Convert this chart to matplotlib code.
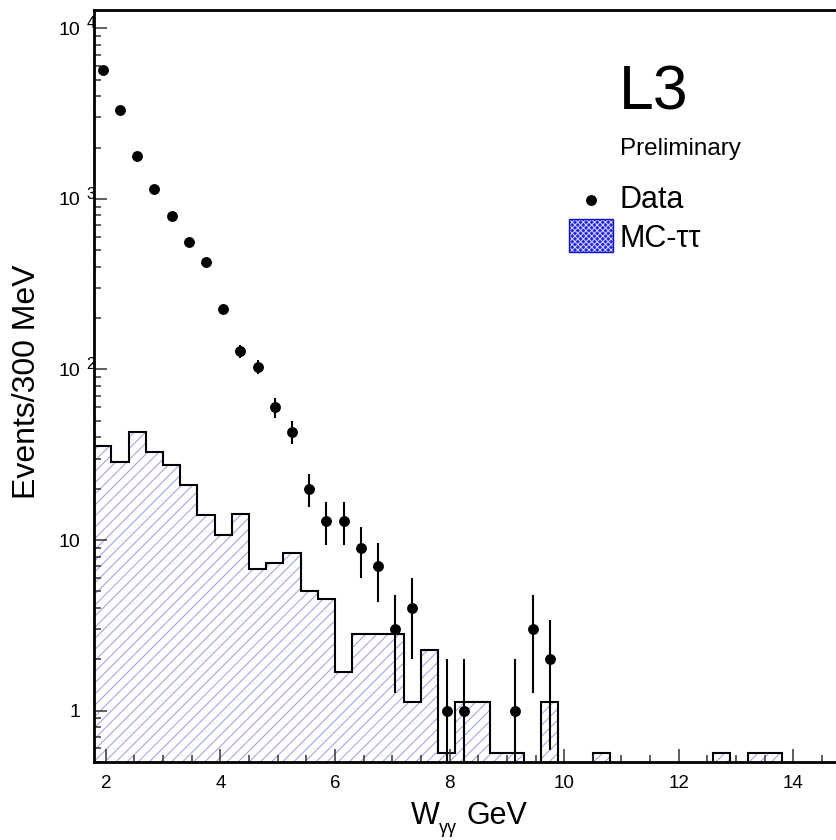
import numpy as np
import matplotlib
matplotlib.use("Agg")
import matplotlib.pyplot as plt
import matplotlib.transforms as mtransforms
from matplotlib.patches import Rectangle
from matplotlib.lines import Line2D
from matplotlib.ticker import MultipleLocator, LogLocator, NullFormatter

plt.rcParams['font.family'] = ['Liberation Sans', 'DejaVu Sans']
plt.rcParams['hatch.linewidth'] = 0.7

# ===== data =====
bin_lo, bin_width, n_bins = 1.8, 0.3, 43

# MC tau-tau (weighted events per bin)
mc_values = [35.6, 28.7, 42.9, 32.8, 27.7, 20.9, 14.1, 10.7, 14.2, 6.74,
             7.34, 8.44, 5.05, 4.50, 1.69, 2.83, 2.83, 2.83, 1.13, 2.26,
             0.565, 1.13, 1.13, 0.565, 0.565, 0, 1.13, 0, 0, 0.565,
             0, 0, 0, 0, 0, 0, 0.565, 0, 0.565, 0.565,
             0, 0, 0]

# data counts (first 27 bins)
data_counts = [5675, 3320, 1778, 1138, 798, 559, 425, 226, 128, 104,
               60, 43, 20, 13, 13, 9, 7, 3, 4, 0,
               1, 1, 0, 0, 1, 3, 2]

x_ticks = [2, 4, 6, 8, 10, 12, 14]
y_ticks = [1, 10, 100, 1000, 10000]

# ===== figure =====
W, H = 836, 840
fig = plt.figure(figsize=(W / 100, H / 100), dpi=100)
ax = fig.add_axes([94.3 / W, 1 - 762 / H, (W - 94.3) / W, (762 - 10) / H])
ax.set_yscale('log', nonpositive='clip')

edges = bin_lo + bin_width * np.arange(n_bins + 1)
mc = np.clip(np.array(mc_values), 1e-3, None)

# hatched MC histogram
ax.stairs(mc, edges, baseline=1e-3, fill=True, facecolor='none',
          edgecolor='#9a9af0', hatch='///', linewidth=0)
ax.stairs(mc, edges, baseline=1e-3, color='black', linewidth=1.5)

# data points with poisson errors
counts = np.array(data_counts, dtype=float)
centers = edges[:len(counts)] + bin_width / 2
keep = counts > 0
err = np.sqrt(counts[keep])
err_lo = np.minimum(err, counts[keep] - 1e-3)
ax.errorbar(centers[keep], counts[keep], yerr=[err_lo, err], fmt='o',
            color='black', ms=6.8, elinewidth=1.5, capsize=0, zorder=5)

ax.set_xlim(bin_lo, bin_lo + (W - 94.3) / 57.3)
ax.set_ylim(0.5, 1.28e4)

# ticks
ax.set_xticks(x_ticks)
ax.xaxis.set_minor_locator(MultipleLocator(0.5))
ax.yaxis.set_major_locator(LogLocator(base=10, numticks=10))
ax.yaxis.set_minor_locator(LogLocator(base=10, subs=np.arange(2, 10), numticks=20))
ax.yaxis.set_major_formatter(NullFormatter())
ax.yaxis.set_minor_formatter(NullFormatter())
ax.tick_params(which='both', direction='in', top=False, right=False,
               color='#333333', width=1.1)
ax.tick_params(which='major', length=9.5)
ax.tick_params(which='minor', length=5)
ax.tick_params(axis='x', labelsize=13.5, pad=9)

for s in ['left', 'bottom', 'top']:
    ax.spines[s].set_linewidth(2)
ax.spines['right'].set_visible(False)

# ROOT style y labels: 1, 10, 10^2 ...
ytr = ax.get_yaxis_transform()
sup_tr = mtransforms.offset_copy(ytr, fig=fig, x=0, y=4.5, units='points')
for v in y_ticks:
    if v < 100:
        ax.text(-0.0193, v, str(v), transform=ytr, ha='right',
                va='center_baseline', fontsize=14)
    else:
        ax.text(-0.0193, v, "10", transform=ytr, ha='right',
                va='center_baseline', fontsize=14)
        ax.text(-0.0105, v, str(int(round(np.log10(v)))), transform=sup_tr,
                ha='left', va='center_baseline', fontsize=11.5)

# axis titles
fig.text(26.7 / W, 1 - 381.5 / H, "Events/300 MeV", rotation=90,
         ha='center', va='center', fontsize=23)
fig.text(411 / W, 1 - 824 / H, "W", ha='left', va='baseline', fontsize=22)
fig.text(439 / W, 1 - 833 / H, "γγ", ha='left', va='baseline', fontsize=13)
fig.text(467 / W, 1 - 824 / H, "GeV", ha='left', va='baseline', fontsize=22)

# L3 label and legend
fig.text(618.5 / W, 1 - 110 / H, "L3", ha='left', va='baseline', fontsize=45)
fig.text(620.5 / W, 1 - 155 / H, "Preliminary", ha='left', va='baseline', fontsize=17.5)
fig.add_artist(Line2D([590.7 / W], [1 - 200 / H], marker='o', ms=6.8,
                      color='black', linestyle='none', transform=fig.transFigure))
fig.text(620 / W, 1 - 208.3 / H, "Data", ha='left', va='baseline', fontsize=22)
box = (569.3 / W, 1 - 252.3 / H)
bw, bh = 44 / W, 33.3 / H
fig.add_artist(Rectangle(box, bw, bh, transform=fig.transFigure,
                         facecolor='#2424ff', edgecolor='#d8d8ff', hatch='xxxxxx',
                         linewidth=0))
fig.add_artist(Rectangle(box, bw, bh, transform=fig.transFigure,
                         facecolor='none', edgecolor='#1010d0', linewidth=1))
fig.text(620 / W, 1 - 246.7 / H, "MC-ττ", ha='left', va='baseline', fontsize=22)

fig.savefig("out.png", dpi=100)
